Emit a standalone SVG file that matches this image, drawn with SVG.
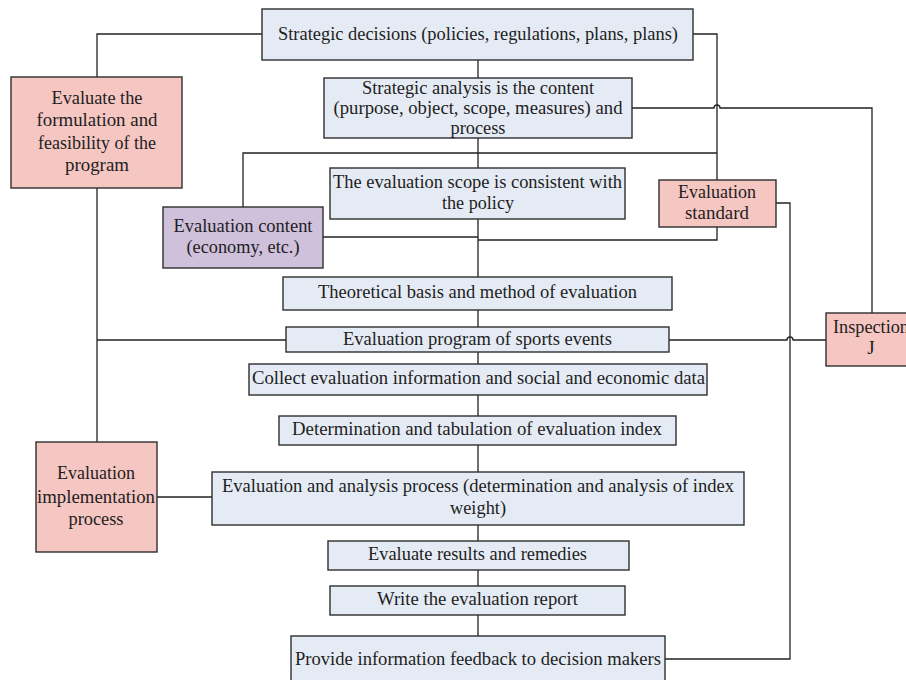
<svg xmlns="http://www.w3.org/2000/svg" width="906" height="680" viewBox="0 0 906 680">
<style>
.b{fill:#e5ebf4;stroke:#2e2e2e;stroke-width:1.4}
.p{fill:#f5c6c2;stroke:#2e2e2e;stroke-width:1.4}
.v{fill:#cfc0dc;stroke:#2e2e2e;stroke-width:1.4}
text{font-family:"Liberation Serif","Times New Roman",serif;font-size:19px;fill:#1e1e1e;text-anchor:middle}
.c path{fill:none;stroke:#222;stroke-width:1.3}
</style>
<rect width="906" height="680" fill="#fff"/>
<g class="c" id="connectors">
<path d="M262,34 H97 V77"/>
<path d="M478,60 V78"/>
<path d="M693,34 H717 V180"/>
<path d="M243,207 V153 H717"/>
<path d="M632,108 H714 a3,3 0 0 1 6,0 H872 V313"/>
<path d="M478,138 V168"/>
<path d="M323,237 H478"/>
<path d="M478,219 V277"/>
<path d="M478,240 H717 V227"/>
<path d="M776,203 H790 V659 H665"/>
<path d="M478,310 V327"/>
<path d="M97,188 V442"/>
<path d="M97,340 H286"/>
<path d="M669,340 H787 a3,3 0 0 1 6,0 H826"/>
<path d="M478,352 V364 M478,395 V416 M478,445 V472 M478,525 V541 M478,570 V586 M478,615 V636"/>
<path d="M157,497 H212"/>
</g>
<g id="strategic-decisions">
<rect class="b" x="262" y="9" width="431" height="51"/>
<text x="478" y="39.5" textLength="400" lengthAdjust="spacingAndGlyphs">Strategic decisions (policies, regulations, plans, plans)</text>
</g>
<g id="strategic-analysis">
<rect class="b" x="324" y="78" width="308" height="60"/>
<text x="478" y="94" textLength="232" lengthAdjust="spacingAndGlyphs">Strategic analysis is the content</text>
<text x="478" y="114" textLength="289" lengthAdjust="spacingAndGlyphs">(purpose, object, scope, measures) and</text>
<text x="478" y="134" textLength="55" lengthAdjust="spacingAndGlyphs">process</text>
</g>
<g id="evaluate-formulation">
<rect class="p" x="11" y="77" width="171" height="111"/>
<text x="97" y="104" textLength="91" lengthAdjust="spacingAndGlyphs">Evaluate the</text>
<text x="97" y="126" textLength="121" lengthAdjust="spacingAndGlyphs">formulation and</text>
<text x="97" y="148.5" textLength="118" lengthAdjust="spacingAndGlyphs">feasibility of the</text>
<text x="97" y="171" textLength="64" lengthAdjust="spacingAndGlyphs">program</text>
</g>
<g id="evaluation-scope">
<rect class="b" x="330" y="168" width="295" height="51"/>
<text x="477.5" y="188" textLength="289" lengthAdjust="spacingAndGlyphs">The evaluation scope is consistent with</text>
<text x="478" y="209" textLength="72" lengthAdjust="spacingAndGlyphs">the policy</text>
</g>
<g id="evaluation-content">
<rect class="v" x="163" y="207" width="160" height="61"/>
<text x="243" y="232" textLength="139" lengthAdjust="spacingAndGlyphs">Evaluation content</text>
<text x="243" y="253" textLength="113" lengthAdjust="spacingAndGlyphs">(economy, etc.)</text>
</g>
<g id="evaluation-standard">
<rect class="p" x="659" y="180" width="117" height="47"/>
<text x="717" y="198" textLength="78" lengthAdjust="spacingAndGlyphs">Evaluation</text>
<text x="717" y="219" textLength="64" lengthAdjust="spacingAndGlyphs">standard</text>
</g>
<g id="theoretical-basis">
<rect class="b" x="283" y="277" width="389" height="33"/>
<text x="477.5" y="298" textLength="319" lengthAdjust="spacingAndGlyphs">Theoretical basis and method of evaluation</text>
</g>
<g id="evaluation-program">
<rect class="b" x="286" y="327" width="383" height="25"/>
<text x="477.5" y="345" textLength="269" lengthAdjust="spacingAndGlyphs">Evaluation program of sports events</text>
</g>
<g id="inspection">
<rect class="p" x="826" y="313" width="90" height="53"/>
<text x="833" y="333" textLength="76" lengthAdjust="spacingAndGlyphs" style="text-anchor:start">Inspection</text>
<text x="871" y="354">J</text>
</g>
<g id="collect">
<rect class="b" x="249" y="364" width="458" height="31"/>
<text x="478.5" y="384" textLength="453" lengthAdjust="spacingAndGlyphs">Collect evaluation information and social and economic data</text>
</g>
<g id="determination">
<rect class="b" x="279" y="416" width="397" height="29"/>
<text x="477" y="435" textLength="370" lengthAdjust="spacingAndGlyphs">Determination and tabulation of evaluation index</text>
</g>
<g id="analysis">
<rect class="b" x="212" y="472" width="532" height="53"/>
<text x="478" y="492" textLength="512" lengthAdjust="spacingAndGlyphs">Evaluation and analysis process (determination and analysis of index</text>
<text x="478" y="514" textLength="56" lengthAdjust="spacingAndGlyphs">weight)</text>
</g>
<g id="evaluation-implementation">
<rect class="p" x="36" y="442" width="121" height="110"/>
<text x="96" y="479" textLength="78" lengthAdjust="spacingAndGlyphs">Evaluation</text>
<text x="96" y="502.5" textLength="118" lengthAdjust="spacingAndGlyphs">implementation</text>
<text x="96" y="525" textLength="55" lengthAdjust="spacingAndGlyphs">process</text>
</g>
<g id="results">
<rect class="b" x="328" y="541" width="301" height="29"/>
<text x="477.5" y="560" textLength="219" lengthAdjust="spacingAndGlyphs">Evaluate results and remedies</text>
</g>
<g id="write-report">
<rect class="b" x="330" y="586" width="295" height="29"/>
<text x="477.5" y="605" textLength="201" lengthAdjust="spacingAndGlyphs">Write the evaluation report</text>
</g>
<g id="feedback">
<rect class="b" x="291" y="636" width="374" height="48"/>
<text x="478" y="665" textLength="366" lengthAdjust="spacingAndGlyphs">Provide information feedback to decision makers</text>
</g>
</svg>
